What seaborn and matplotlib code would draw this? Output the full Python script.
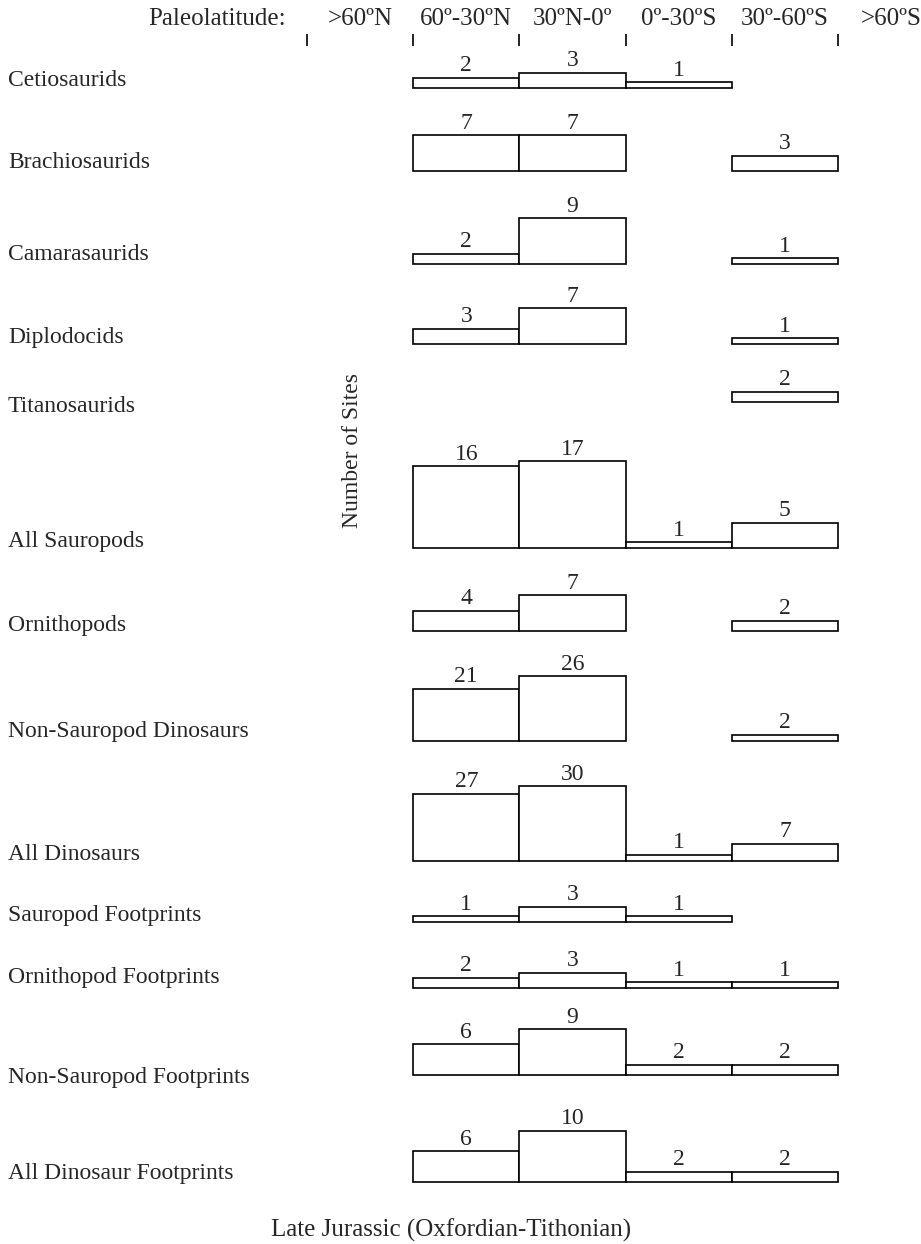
import matplotlib
matplotlib.use("Agg")
import matplotlib.pyplot as plt
import seaborn as sns
import numpy as np

# ---------------- data ----------------
lat_bins = [">60ºN", "60º-30ºN", "30ºN-0º", "0º-30ºS", "30º-60ºS", ">60ºS"]
groups = ["Cetiosaurids", "Brachiosaurids", "Camarasaurids", "Diplodocids",
          "Titanosaurids", "All Sauropods", "Ornithopods",
          "Non-Sauropod Dinosaurs", "All Dinosaurs", "Sauropod Footprints",
          "Ornithopod Footprints", "Non-Sauropod Footprints",
          "All Dinosaur Footprints"]
n_gt60N  = [0, 0, 0, 0, 0, 0, 0, 0, 0, 0, 0, 0, 0]
n_60_30N = [2, 7, 2, 3, 0, 16, 4, 21, 27, 1, 2, 6, 6]
n_30N_0  = [3, 7, 9, 7, 0, 17, 7, 26, 30, 3, 3, 9, 10]
n_0_30S  = [1, 0, 0, 0, 0, 1, 0, 0, 1, 1, 1, 2, 2]
n_30_60S = [0, 3, 1, 1, 2, 5, 2, 2, 7, 0, 1, 2, 2]
n_gt60S  = [0, 0, 0, 0, 0, 0, 0, 0, 0, 0, 0, 0, 0]

# ---------------- layout (pixel units of the page) ----------------
row_base = [88, 171, 264, 344, 402, 548, 631, 741, 861, 922, 988, 1075, 1182]
row_label_y = [80, 163, 255, 338, 407, 542, 625, 731, 854, 916, 977, 1078, 1173]
row_scale = [5.1, 5.1, 5.1, 5.1, 5.1, 5.1, 5.1, 2.5, 2.5, 5.1, 5.1, 5.1, 5.1]
MIN_H = 6.0
BIN_PX = 106.2
ORIGIN_PX = 307.0
W, H = 921, 1244

sns.set_theme(style="white")
plt.rcParams["font.family"] = ["Liberation Serif", "DejaVu Serif"]
FS = 17
FS_HEAD = 18

fig = plt.figure(figsize=(W / 100, H / 100), dpi=100)
ax = fig.add_axes([0, 0, 1, 1])
ax.set_xlim(-ORIGIN_PX / BIN_PX, (W - ORIGIN_PX) / BIN_PX)
ax.set_ylim(H, 0)
ax.axis("off")

# header
ax.text(-(ORIGIN_PX - 148) / BIN_PX, 19, "Paleolatitude:", fontsize=FS_HEAD,
        ha="left", va="center")
for i, lab in enumerate(lat_bins):
    ax.text(i + 0.5, 19, lab, fontsize=FS_HEAD, ha="center", va="center")
ax.vlines(np.arange(0, 6), 34, 46, color="black", lw=1.2)

series = [n_gt60N, n_60_30N, n_30N_0, n_0_30S, n_30_60S, n_gt60S]
for r, name in enumerate(groups):
    ax.text(-(ORIGIN_PX - 8) / BIN_PX, row_label_y[r], name, fontsize=FS,
            ha="left", va="center")
    for b in range(6):
        v = series[b][r]
        if v <= 0:
            continue
        h = max(v * row_scale[r], MIN_H)
        ax.bar(b, h, width=1.0, bottom=row_base[r] - h, align="edge",
               facecolor="white", edgecolor="black", linewidth=1.2)
        ax.text(b + 0.5, row_base[r] - h - 1.5, str(v), fontsize=FS,
                ha="center", va="bottom")

ax.text(-(ORIGIN_PX - 352) / BIN_PX, 450, "Number of Sites", fontsize=FS,
        rotation=90, ha="center", va="center")
ax.text(-(ORIGIN_PX - 451) / BIN_PX, 1230,
        "Late Jurassic (Oxfordian-Tithonian)", fontsize=FS_HEAD,
        ha="center", va="center")

fig.savefig("out.png", dpi=100, facecolor="white")
